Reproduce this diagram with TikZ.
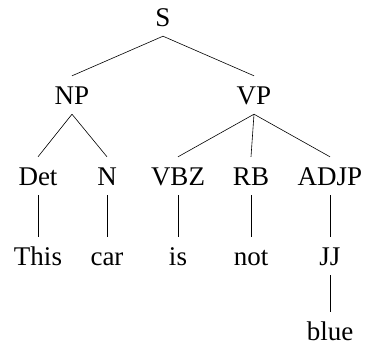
\documentclass[tikz,border=0pt]{standalone}
\usepackage{fontspec}
\setmainfont{Liberation Serif}
\begin{document}
\begin{tikzpicture}[x=1pt,y=-1pt,
  lbl/.style={anchor=base,inner xsep=0pt,inner ysep=10pt,text height=18pt,text depth=0pt,font=\fontsize{27}{30}\selectfont},
  edge/.style={line width=0.6pt}]
\useasboundingbox (0,0) rectangle (367,349);
\node[lbl] (S) at (163,26) {S};
\node[lbl] (NP) at (72,104) {NP};
\node[lbl] (VP) at (254,104) {VP};
\node[lbl] (Det) at (38,185) {Det};
\node[lbl] (N) at (107,185) {N};
\node[lbl] (VBZ) at (178,185) {VBZ};
\node[lbl] (RB) at (251,185) {RB};
\node[lbl] (ADJP) at (330,185) {ADJP};
\node[lbl] (This) at (38,265) {This};
\node[lbl] (car) at (107,265) {car};
\node[lbl] (is) at (178,265) {is};
\node[lbl] (not) at (251,265) {not};
\node[lbl] (JJ) at (330,265) {JJ};
\node[lbl] (blue) at (330,340) {blue};
\draw[edge] (S.south) -- (NP.north);
\draw[edge] (S.south) -- (VP.north);
\draw[edge] (NP.south) -- (Det.north);
\draw[edge] (NP.south) -- (N.north);
\draw[edge] (VP.south) -- (VBZ.north);
\draw[edge] (VP.south) -- (RB.north);
\draw[edge] (VP.south) -- (ADJP.north);
\draw[edge] (Det.south) -- (This.north);
\draw[edge] (N.south) -- (car.north);
\draw[edge] (VBZ.south) -- (is.north);
\draw[edge] (RB.south) -- (not.north);
\draw[edge] (ADJP.south) -- (JJ.north);
\draw[edge] (JJ.south) -- (blue.north);
\end{tikzpicture}
\end{document}
